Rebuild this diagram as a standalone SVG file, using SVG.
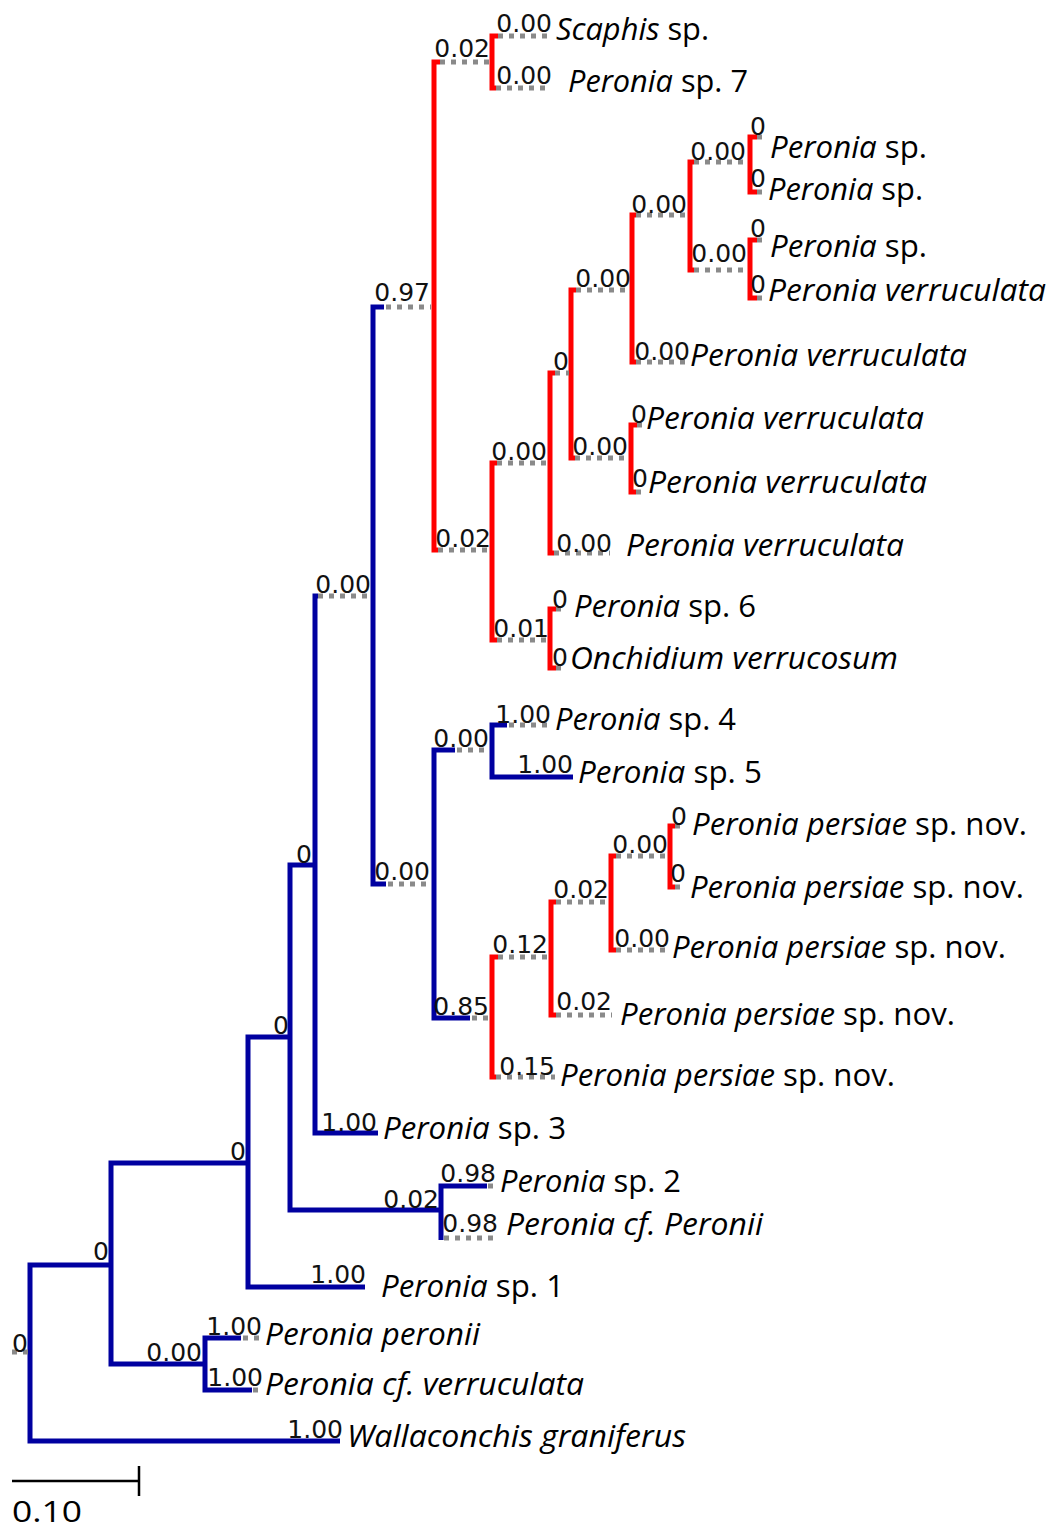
<svg xmlns="http://www.w3.org/2000/svg" width="1051" height="1531" viewBox="0 0 1051 1531">
<style>
.b{fill:none;stroke:#0000a0;stroke-width:5}
.r{fill:none;stroke:#ff0000;stroke-width:5}
.d{fill:none;stroke:#8a8a8a;stroke-width:5;stroke-dasharray:5 6}
.n{font-family:"DejaVu Sans",sans-serif;font-size:25px;fill:#111;text-anchor:end}
.t{font-family:"Open Sans",sans-serif;font-size:31px;fill:#000}
.i{font-style:italic}
</style>
<rect width="1051" height="1531" fill="#fff"/>
<g id="connectors">
  <path class="b" d="M111,1265 H30 V1441 H340"/>
  <path class="b" d="M248,1163 H111 V1364 H205"/>
  <path class="b" d="M241,1338 H205 V1390 H252"/>
  <path class="b" d="M290,1037 H248 V1287 H365"/>
  <path class="b" d="M315,865 H290 V1210 H441"/>
  <path class="b" d="M487,1186 H441 V1240"/>
  <path class="b" d="M318,596 H315 V1133 H378"/>
  <path class="b" d="M384,307 H373 V884 H386"/>
  <path class="b" d="M455,750 H434 V1018 H470"/>
  <path class="b" d="M507,725 H492 V777 H573"/>
  <path class="r" d="M440,62 H434 V550 H438"/>
  <path class="r" d="M498,36 H492 V88 H496"/>
  <path class="r" d="M497,463 H492 V640 H497"/>
  <path class="r" d="M555,373 H550 V553 H554"/>
  <path class="r" d="M556,609 H550 V668 H556"/>
  <path class="r" d="M576,290 H571 V458 H575"/>
  <path class="r" d="M636,215 H632 V362 H636"/>
  <path class="r" d="M637,425 H631 V492 H636"/>
  <path class="r" d="M694,162 H690 V270 H694"/>
  <path class="r" d="M757,137 H750 V192 H757"/>
  <path class="r" d="M757,240 H750 V298 H757"/>
  <path class="r" d="M498,957 H492 V1077 H496"/>
  <path class="r" d="M556,902 H551 V1015 H556"/>
  <path class="r" d="M616,856 H611 V950 H616"/>
  <path class="r" d="M675,826 H670 V887 H675"/>
  <path class="d" d="M12,1352 H28"/>
  <path class="d" d="M243,1338 H263"/>
  <path class="d" d="M253,1390 H258"/>
  <path class="d" d="M488,1186 H494"/>
  <path class="d" d="M444,1238 H498"/>
  <path class="d" d="M318,596 H371"/>
  <path class="d" d="M386,307 H431"/>
  <path class="d" d="M388,884 H431"/>
  <path class="d" d="M457,750 H490"/>
  <path class="d" d="M509,725 H550"/>
  <path class="d" d="M472,1018 H490"/>
  <path class="d" d="M440,62 H490"/>
  <path class="d" d="M498,36 H551"/>
  <path class="d" d="M496,88 H551"/>
  <path class="d" d="M438,550 H490"/>
  <path class="d" d="M497,463 H548"/>
  <path class="d" d="M497,640 H548"/>
  <path class="d" d="M555,373 H569"/>
  <path class="d" d="M554,553 H610"/>
  <path class="d" d="M576,290 H630"/>
  <path class="d" d="M575,458 H629"/>
  <path class="d" d="M636,215 H688"/>
  <path class="d" d="M636,362 H690"/>
  <path class="d" d="M694,162 H748"/>
  <path class="d" d="M694,270 H748"/>
  <path class="d" d="M757,137 H763"/>
  <path class="d" d="M757,192 H763"/>
  <path class="d" d="M757,240 H763"/>
  <path class="d" d="M757,298 H763"/>
  <path class="d" d="M637,425 H643"/>
  <path class="d" d="M636,492 H642"/>
  <path class="d" d="M556,609 H562"/>
  <path class="d" d="M556,668 H562"/>
  <path class="d" d="M498,957 H549"/>
  <path class="d" d="M496,1077 H555"/>
  <path class="d" d="M556,902 H609"/>
  <path class="d" d="M556,1015 H612"/>
  <path class="d" d="M616,856 H668"/>
  <path class="d" d="M616,950 H671"/>
  <path class="d" d="M675,826 H681"/>
  <path class="d" d="M675,887 H681"/>
</g>

<g id="node-root"><text class="n" x="28" y="1352">0</text></g>
<g id="node-A"><text class="n" x="109" y="1260">0</text></g>
<g id="node-B"><text class="n" x="246" y="1160">0</text></g>
<g id="node-C"><text class="n" x="202" y="1361">0.00</text></g>
<g id="node-D"><text class="n" x="289" y="1034">0</text></g>
<g id="node-E"><text class="n" x="312" y="863">0</text></g>
<g id="node-F"><text class="n" x="439" y="1208">0.02</text></g>
<g id="node-G"><text class="n" x="371" y="593">0.00</text></g>
<g id="node-H"><text class="n" x="430" y="301">0.97</text></g>
<g id="node-I"><text class="n" x="430" y="880">0.00</text></g>
<g id="node-J"><text class="n" x="489" y="747">0.00</text></g>
<g id="node-K"><text class="n" x="489" y="1015">0.85</text></g>
<g id="node-L"><text class="n" x="490" y="57">0.02</text></g>
<g id="node-M"><text class="n" x="491" y="547">0.02</text></g>
<g id="node-N"><text class="n" x="547" y="460">0.00</text></g>
<g id="node-O"><text class="n" x="549" y="637">0.01</text></g>
<g id="node-P"><text class="n" x="569" y="370">0</text></g>
<g id="node-Q"><text class="n" x="631" y="287">0.00</text></g>
<g id="node-R"><text class="n" x="628" y="455">0.00</text></g>
<g id="node-S"><text class="n" x="687" y="213">0.00</text></g>
<g id="node-T"><text class="n" x="746" y="160">0.00</text></g>
<g id="node-U"><text class="n" x="747" y="262">0.00</text></g>
<g id="node-V"><text class="n" x="548" y="953">0.12</text></g>
<g id="node-W"><text class="n" x="609" y="898">0.02</text></g>
<g id="node-X"><text class="n" x="668" y="853">0.00</text></g>

<g id="leaf-scaphis"><text class="n" x="552" y="32">0.00</text><text class="t" x="556" y="40" textLength="153" lengthAdjust="spacingAndGlyphs"><tspan class="i">Scaphis</tspan> sp.</text></g>
<g id="leaf-peronia-sp7"><text class="n" x="552" y="84">0.00</text><text class="t" x="568" y="92" textLength="180" lengthAdjust="spacingAndGlyphs"><tspan class="i">Peronia</tspan> sp. 7</text></g>
<g id="leaf-peronia-sp-a"><text class="n" x="766" y="135">0</text><text class="t" x="770" y="158" textLength="157" lengthAdjust="spacingAndGlyphs"><tspan class="i">Peronia</tspan> sp.</text></g>
<g id="leaf-peronia-sp-b"><text class="n" x="766" y="187">0</text><text class="t" x="768" y="200" textLength="155" lengthAdjust="spacingAndGlyphs"><tspan class="i">Peronia</tspan> sp.</text></g>
<g id="leaf-peronia-sp-c"><text class="n" x="766" y="237">0</text><text class="t" x="770" y="257" textLength="157" lengthAdjust="spacingAndGlyphs"><tspan class="i">Peronia</tspan> sp.</text></g>
<g id="leaf-verruculata-1"><text class="n" x="766" y="293">0</text><text class="t i" x="768" y="301" textLength="278" lengthAdjust="spacingAndGlyphs">Peronia verruculata</text></g>
<g id="leaf-verruculata-2"><text class="n" x="690" y="360">0.00</text><text class="t i" x="690" y="366" textLength="277" lengthAdjust="spacingAndGlyphs">Peronia verruculata</text></g>
<g id="leaf-verruculata-3"><text class="n" x="647" y="423">0</text><text class="t i" x="646" y="429" textLength="278" lengthAdjust="spacingAndGlyphs">Peronia verruculata</text></g>
<g id="leaf-verruculata-4"><text class="n" x="648" y="487">0</text><text class="t i" x="648" y="493" textLength="279" lengthAdjust="spacingAndGlyphs">Peronia verruculata</text></g>
<g id="leaf-verruculata-5"><text class="n" x="612" y="552">0.00</text><text class="t i" x="626" y="556" textLength="278" lengthAdjust="spacingAndGlyphs">Peronia verruculata</text></g>
<g id="leaf-peronia-sp6"><text class="n" x="568" y="608">0</text><text class="t" x="574" y="617" textLength="182" lengthAdjust="spacingAndGlyphs"><tspan class="i">Peronia</tspan> sp. 6</text></g>
<g id="leaf-onchidium"><text class="n" x="568" y="666">0</text><text class="t i" x="570" y="669" textLength="328" lengthAdjust="spacingAndGlyphs">Onchidium verrucosum</text></g>
<g id="leaf-peronia-sp4"><text class="n" x="551" y="723">1.00</text><text class="t" x="555" y="730" textLength="181" lengthAdjust="spacingAndGlyphs"><tspan class="i">Peronia</tspan> sp. 4</text></g>
<g id="leaf-peronia-sp5"><text class="n" x="573" y="773">1.00</text><text class="t" x="578" y="783" textLength="184" lengthAdjust="spacingAndGlyphs"><tspan class="i">Peronia</tspan> sp. 5</text></g>
<g id="leaf-persiae-1"><text class="n" x="687" y="825">0</text><text class="t" x="692" y="835" textLength="335" lengthAdjust="spacingAndGlyphs"><tspan class="i">Peronia persiae</tspan> sp. nov.</text></g>
<g id="leaf-persiae-2"><text class="n" x="686" y="882">0</text><text class="t" x="690" y="898" textLength="334" lengthAdjust="spacingAndGlyphs"><tspan class="i">Peronia persiae</tspan> sp. nov.</text></g>
<g id="leaf-persiae-3"><text class="n" x="670" y="947">0.00</text><text class="t" x="672" y="958" textLength="334" lengthAdjust="spacingAndGlyphs"><tspan class="i">Peronia persiae</tspan> sp. nov.</text></g>
<g id="leaf-persiae-4"><text class="n" x="612" y="1010">0.02</text><text class="t" x="620" y="1025" textLength="335" lengthAdjust="spacingAndGlyphs"><tspan class="i">Peronia persiae</tspan> sp. nov.</text></g>
<g id="leaf-persiae-5"><text class="n" x="555" y="1075">0.15</text><text class="t" x="560" y="1086" textLength="335" lengthAdjust="spacingAndGlyphs"><tspan class="i">Peronia persiae</tspan> sp. nov.</text></g>
<g id="leaf-peronia-sp3"><text class="n" x="377" y="1131">1.00</text><text class="t" x="383" y="1139" textLength="183" lengthAdjust="spacingAndGlyphs"><tspan class="i">Peronia</tspan> sp. 3</text></g>
<g id="leaf-peronia-sp2"><text class="n" x="496" y="1182">0.98</text><text class="t" x="500" y="1192" textLength="181" lengthAdjust="spacingAndGlyphs"><tspan class="i">Peronia</tspan> sp. 2</text></g>
<g id="leaf-peronia-cf-peronii"><text class="n" x="498" y="1232">0.98</text><text class="t i" x="506" y="1235" textLength="257" lengthAdjust="spacingAndGlyphs">Peronia cf. Peronii</text></g>
<g id="leaf-peronia-sp1"><text class="n" x="366" y="1283">1.00</text><text class="t" x="381" y="1297" textLength="183" lengthAdjust="spacingAndGlyphs"><tspan class="i">Peronia</tspan> sp. 1</text></g>
<g id="leaf-peronia-peronii"><text class="n" x="262" y="1335">1.00</text><text class="t i" x="265" y="1345" textLength="215" lengthAdjust="spacingAndGlyphs">Peronia peronii</text></g>
<g id="leaf-peronia-cf-verruculata"><text class="n" x="263" y="1386">1.00</text><text class="t i" x="265" y="1395" textLength="319" lengthAdjust="spacingAndGlyphs">Peronia cf. verruculata</text></g>
<g id="leaf-wallaconchis"><text class="n" x="343" y="1438">1.00</text><text class="t i" x="347" y="1447" textLength="339" lengthAdjust="spacingAndGlyphs">Wallaconchis graniferus</text></g>

<g id="scale-bar">
  <path d="M12,1481 H139 M139,1466 V1496" fill="none" stroke="#000" stroke-width="2.5"/>
  <text class="t" x="12" y="1522" style="font-size:29px" textLength="70" lengthAdjust="spacingAndGlyphs">0.10</text>
</g>
</svg>
